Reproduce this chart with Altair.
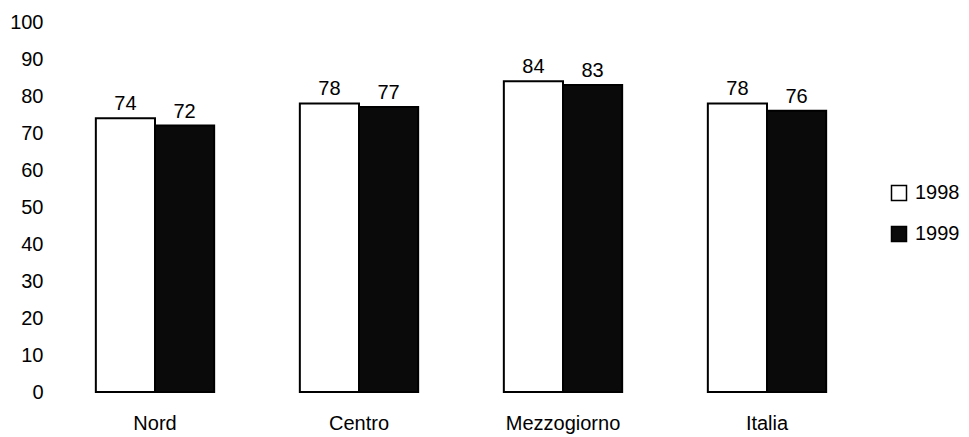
import altair as alt
import pandas as pd

regions = ["Nord", "Centro", "Mezzogiorno", "Italia"]
v1998 = [74, 78, 84, 78]
v1999 = [72, 77, 83, 76]
years = ["1998", "1999"]

rows = []
for r, a, b in zip(regions, v1998, v1999):
    rows.append({"region": r, "year": "1998", "value": a})
    rows.append({"region": r, "year": "1999", "value": b})
df = pd.DataFrame(rows)

FONT = "Liberation Sans"
FS = 20

x = alt.X("region:N", sort=regions, title=None,
          scale=alt.Scale(paddingInner=0.42, paddingOuter=0.21),
          axis=alt.Axis(labelAngle=0, domain=False, ticks=False, labelPadding=21,
                        labelFontSize=FS, labelFont=FONT, labelColor="#000"))
xo = alt.XOffset("year:N", sort=years, scale=alt.Scale(paddingInner=0, paddingOuter=0))
y = alt.Y("value:Q", title=None,
          scale=alt.Scale(domain=[0, 100], nice=False),
          axis=alt.Axis(values=list(range(0, 101, 10)), grid=False, domain=False, ticks=False,
                        labelPadding=10, labelFontSize=FS, labelFont=FONT, labelColor="#000"))

bars = alt.Chart(df).mark_bar(stroke="black", strokeWidth=2).encode(
    x=x, xOffset=xo, y=y,
    fill=alt.Fill("year:N", sort=years, title=None,
                  scale=alt.Scale(domain=years, range=["#ffffff", "#0a0a0a"]),
                  legend=alt.Legend(orient="none", legendX=836, legendY=161,
                                    symbolType="square", symbolSize=225,
                                    symbolStrokeColor="black", symbolStrokeWidth=1.5,
                                    labelFontSize=FS, labelFont=FONT, labelColor="#000",
                                    rowPadding=19, labelOffset=6)),
)

labels = alt.Chart(df).mark_text(baseline="alphabetic", dy=-8, fontSize=FS, font=FONT, color="#000").encode(
    x=x, xOffset=xo, y=y, text=alt.Text("value:Q")
)

chart = alt.layer(bars, labels).properties(
    width=816, height=370,
    autosize=alt.AutoSizeParams(type="none"),
    padding={"left": 45, "top": 14, "right": 92, "bottom": 45},
).configure(background="white", view=alt.ViewConfig(strokeWidth=0, stroke="transparent"))

chart.save("out.html", embed_options={"renderer": "svg", "actions": False})
